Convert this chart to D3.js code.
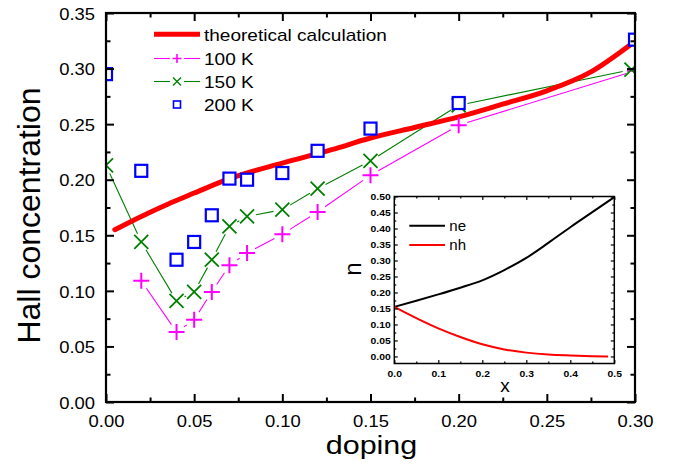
<!DOCTYPE html>
<html><head><meta charset="utf-8">
<script src="https://cdn.jsdelivr.net/npm/d3@7"></script>
<style>body{margin:0;background:#fff}svg{display:block}text{font-family:"Liberation Sans",Arial,sans-serif}</style>
</head><body>
<script>
// ---- data ----
const theoryX = [0.005,0.02,0.035,0.05,0.07,0.10,0.128,0.15,0.175,0.20,0.225,0.25,0.275,0.297];
const theoryY = [0.155,0.167,0.178,0.188,0.201,0.215,0.227,0.2375,0.247,0.2565,0.268,0.280,0.297,0.321];
const k100X = [0.02,0.04,0.05,0.06,0.07,0.08,0.10,0.12,0.15,0.20,0.30];
const k100Y = [0.109,0.063,0.074,0.099,0.123,0.134,0.151,0.171,0.204,0.249,0.298];
const k150X = [0.0,0.02,0.04,0.05,0.06,0.07,0.08,0.10,0.12,0.15,0.20,0.298];
const k150Y = [0.213,0.144,0.091,0.099,0.128,0.158,0.167,0.173,0.192,0.217,0.267,0.299];
const k200X = [0.0,0.02,0.04,0.05,0.06,0.07,0.08,0.10,0.12,0.15,0.20,0.30];
const k200Y = [0.295,0.208,0.128,0.144,0.168,0.201,0.200,0.206,0.226,0.246,0.269,0.326];
const xTicks = [0,0.05,0.10,0.15,0.20,0.25,0.30];
const xTickLabels = ["0.00","0.05","0.10","0.15","0.20","0.25","0.30"];
const yTicks = [0,0.05,0.10,0.15,0.20,0.25,0.30,0.35];
const yTickLabels = ["0.00","0.05","0.10","0.15","0.20","0.25","0.30","0.35"];
const legendLabels = ["theoretical calculation","100 K","150 K","200 K"];
// inset
const insetX = [0,0.05,0.10,0.15,0.20,0.25,0.30,0.35,0.40,0.45,0.50];
const neY = [0.155,0.174,0.194,0.215,0.238,0.270,0.308,0.355,0.404,0.451,0.498];
const nhX = [0,0.05,0.10,0.15,0.20,0.25,0.30,0.35,0.40,0.45,0.486];
const nhY = [0.155,0.120,0.088,0.061,0.038,0.022,0.012,0.006,0.003,0.001,0.0];
const insetXTicks = [0,0.1,0.2,0.3,0.4,0.5];
const insetXTickLabels = ["0.0","0.1","0.2","0.3","0.4","0.5"];
const insetYTicks = [0,0.05,0.10,0.15,0.20,0.25,0.30,0.35,0.40,0.45,0.50];
const insetYTickLabels = ["0.00","0.05","0.10","0.15","0.20","0.25","0.30","0.35","0.40","0.45","0.50"];
const insetLegend = ["ne","nh"];

const W=678,H=466;
const svg=d3.select("body").append("svg").attr("width",W).attr("height",H);
const L=106,R=635,T=13,B=402;
const x=d3.scaleLinear([0,0.30],[L,R]);
const y=d3.scaleLinear([0,0.35],[B,T]);

svg.append("defs").append("clipPath").attr("id","clip").append("rect")
  .attr("x",L).attr("y",T).attr("width",R-L).attr("height",B-T);

function axisSet(g, xs, ys, opts){
  const mk=(fn,scale,vals,len,pos)=>{
    const a=g.append("g").attr("transform",pos).call(fn(scale).tickValues(vals).tickSize(-len).tickSizeOuter(0).tickFormat(""));
    a.select(".domain").remove();
    a.selectAll("line").attr("stroke","#000").attr("stroke-width",opts.sw);
    return a;
  };
  [[opts.majorX,opts.len],[opts.minorX,opts.minLen]].forEach(([v,l])=>{
    mk(d3.axisBottom,xs,v,l,`translate(0,${ys.range()[0]})`);
    mk(d3.axisTop,xs,v,l,`translate(0,${ys.range()[1]})`);
  });
  [[opts.majorY,opts.len],[opts.minorY,opts.minLen]].forEach(([v,l])=>{
    mk(d3.axisLeft,ys,v,l,`translate(${xs.range()[0]},0)`);
    mk(d3.axisRight,ys,v,l,`translate(${xs.range()[1]},0)`);
  });
}

// ---- main plot data ----
const plot=svg.append("g").attr("clip-path","url(#clip)");
function gappedLines(g,xs,ys,sx,sy,gap,color,w){
  for(let i=0;i<xs.length-1;i++){
    const x1=sx(xs[i]),y1=sy(ys[i]),x2=sx(xs[i+1]),y2=sy(ys[i+1]);
    const dx=x2-x1,dy=y2-y1,d=Math.hypot(dx,dy);
    if(d<=2*gap) continue;
    const ux=dx/d,uy=dy/d;
    g.append("line").attr("x1",x1+ux*gap).attr("y1",y1+uy*gap).attr("x2",x2-ux*gap).attr("y2",y2-uy*gap)
      .attr("stroke",color).attr("stroke-width",w);
  }
}
gappedLines(plot,k100X,k100Y,x,y,9,"#ff00ff",1.1);
gappedLines(plot,k150X,k150Y,x,y,9,"#008000",1.1);

plot.append("path").datum(theoryX.map((d,i)=>[d,theoryY[i]]))
  .attr("d",d3.line().x(d=>x(d[0])).y(d=>y(d[1])).curve(d3.curveMonotoneX))
  .attr("fill","none").attr("stroke","#ff0000").attr("stroke-width",5).attr("stroke-linecap","round");

function plus(g,cx,cy,s,color,w){
  g.append("path").attr("d",`M${cx-s/2},${cy}H${cx+s/2}M${cx},${cy-s/2}V${cy+s/2}`).attr("stroke",color).attr("stroke-width",w).attr("fill","none");
}
function cross(g,cx,cy,s,color,w){
  const h=s/2;
  g.append("path").attr("d",`M${cx-h},${cy-h}L${cx+h},${cy+h}M${cx-h},${cy+h}L${cx+h},${cy-h}`).attr("stroke",color).attr("stroke-width",w).attr("fill","none");
}
function square(g,cx,cy,s,color,w){
  g.append("rect").attr("x",cx-s/2).attr("y",cy-s/2).attr("width",s).attr("height",s)
    .attr("fill","#fff").attr("stroke",color).attr("stroke-width",w);
}
k100X.forEach((d,i)=>plus(plot,x(d),y(k100Y[i]),16,"#ff00ff",2));
k150X.forEach((d,i)=>cross(plot,x(d),y(k150Y[i]),14,"#008000",1.8));
k200X.forEach((d,i)=>square(plot,x(d),y(k200Y[i]),12,"#0000ff",2.2));

// ---- main axes ----
const ax=svg.append("g");
axisSet(ax,x,y,{majorX:xTicks,minorX:[0.025,0.075,0.125,0.175,0.225,0.275],
  majorY:yTicks,minorY:[0.025,0.075,0.125,0.175,0.225,0.275,0.325],len:8,minLen:4.5,sw:2});
ax.append("rect").attr("x",L).attr("y",T).attr("width",R-L).attr("height",B-T)
  .attr("fill","none").attr("stroke","#000").attr("stroke-width",2.2);

const yl=svg.append("g").attr("transform",`translate(${L},0)`)
  .call(d3.axisLeft(y).tickValues(yTicks).tickSize(0).tickPadding(11).tickFormat((d,i)=>yTickLabels[i]));
yl.select(".domain").remove();
yl.selectAll("text").attr("font-size",16).attr("fill","#000").attr("font-family","Liberation Sans, Arial")
  .attr("x",0).attr("dy","0.36em").attr("transform","translate(-11,0.5) scale(1.15,1)");
const xl=svg.append("g").attr("transform",`translate(0,${B})`)
  .call(d3.axisBottom(x).tickValues(xTicks).tickSize(0).tickFormat((d,i)=>xTickLabels[i]));
xl.select(".domain").remove();
xl.selectAll("text").attr("font-size",16).attr("fill","#000").attr("font-family","Liberation Sans, Arial")
  .attr("y",0).attr("dy",0).attr("transform","translate(0,24.5) scale(1.15,1)");

svg.append("text").attr("transform","translate(40,215.5) rotate(-90)").attr("text-anchor","middle")
  .attr("font-size",32).text("Hall concentration");
svg.append("text").attr("transform","translate(371.5,454) scale(1.22,1)").attr("text-anchor","middle")
  .attr("font-size",25).text("doping");

// ---- legend ----
const lg=svg.append("g");
const rows=[34.3,58.5,81.5,104.5];
lg.append("line").attr("x1",154).attr("x2",200).attr("y1",rows[0]).attr("y2",rows[0]).attr("stroke","#ff0000").attr("stroke-width",5);
[[1,"#ff00ff"],[2,"#008000"]].forEach(([r,c])=>{
  lg.append("line").attr("x1",154).attr("x2",170).attr("y1",rows[r]).attr("y2",rows[r]).attr("stroke",c).attr("stroke-width",1.1);
  lg.append("line").attr("x1",184).attr("x2",200).attr("y1",rows[r]).attr("y2",rows[r]).attr("stroke",c).attr("stroke-width",1.1);
});
plus(lg,177,rows[1],9,"#ff00ff",1.6);
cross(lg,177,rows[2],8,"#008000",1.4);
square(lg,177,rows[3],7,"#0000ff",1.6);
legendLabels.forEach((t,i)=>{
  lg.append("text").attr("transform",`translate(204,${rows[i]+6.2}) scale(1.12,1)`).attr("font-size",17).text(t);
});

// ---- inset ----
const IL=394.3,IR=614.3,IT=196.5,IB=363.5;
const ix=d3.scaleLinear([0,0.5],[IL,IR]);
const iy=d3.scaleLinear([-0.022,0.5],[IB,IT]);
const ins=svg.append("g");
ins.append("rect").attr("x",IL).attr("y",IT).attr("width",IR-IL).attr("height",IB-IT).attr("fill","#fff");
const iline=d3.line().x(d=>ix(d[0])).y(d=>iy(d[1])).curve(d3.curveMonotoneX);
ins.append("path").datum(insetX.map((d,i)=>[d,neY[i]])).attr("d",iline).attr("fill","none").attr("stroke","#000").attr("stroke-width",2);
ins.append("path").datum(nhX.map((d,i)=>[d,nhY[i]])).attr("d",iline).attr("fill","none").attr("stroke","#ff0000").attr("stroke-width",2);
axisSet(ins,ix,iy,{majorX:insetXTicks,minorX:[0.05,0.15,0.25,0.35,0.45],
  majorY:insetYTicks,minorY:[0.025,0.075,0.125,0.175,0.225,0.275,0.325,0.375,0.425,0.475],len:3.5,minLen:2,sw:1.2});
ins.append("rect").attr("x",IL).attr("y",IT).attr("width",IR-IL).attr("height",IB-IT)
  .attr("fill","none").attr("stroke","#000").attr("stroke-width",1.5);
const iyl=ins.append("g").attr("transform",`translate(${IL},0)`)
  .call(d3.axisLeft(iy).tickValues(insetYTicks).tickSize(0).tickPadding(3.6).tickFormat((d,i)=>insetYTickLabels[i]));
iyl.select(".domain").remove();
iyl.selectAll("text").attr("font-size",8.5).attr("font-weight","bold").attr("fill","#000").attr("font-family","Liberation Sans, Arial")
  .attr("x",0).attr("dy","0.36em").attr("transform","translate(-3.6,0) scale(1.22,1)");
const ixl=ins.append("g").attr("transform",`translate(0,${IB})`)
  .call(d3.axisBottom(ix).tickValues(insetXTicks).tickSize(0).tickFormat((d,i)=>insetXTickLabels[i]));
ixl.select(".domain").remove();
ixl.selectAll("text").attr("font-size",8.5).attr("font-weight","bold").attr("fill","#000").attr("font-family","Liberation Sans, Arial")
  .attr("y",0).attr("dy",0).attr("transform","translate(0,13.5) scale(1.22,1)");
ins.append("text").attr("x",505).attr("y",392).attr("text-anchor","middle").attr("font-size",19).text("x");
ins.append("text").attr("transform","translate(361,269) rotate(-90)").attr("text-anchor","middle").attr("font-size",24).text("n");
[[225.7,"#000"],[245,"#ff0000"]].forEach(([yy,c],i)=>{
  ins.append("line").attr("x1",409.3).attr("x2",445).attr("y1",yy).attr("y2",yy).attr("stroke",c).attr("stroke-width",2);
  ins.append("text").attr("x",449.3).attr("y",yy+5).attr("font-size",15).text(insetLegend[i]);
});
</script>
</body></html>
